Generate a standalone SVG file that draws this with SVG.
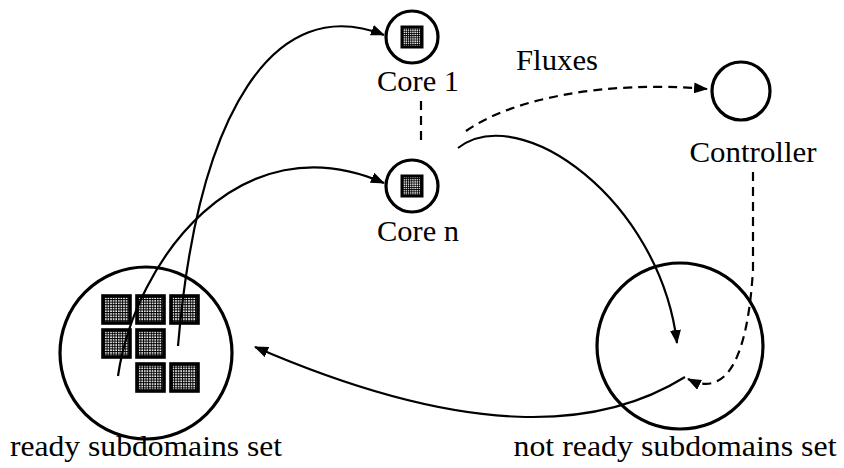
<svg xmlns="http://www.w3.org/2000/svg" width="844" height="468" viewBox="0 0 844 468">
<defs>
<pattern id="grid" width="2.6" height="2.6" patternUnits="userSpaceOnUse">
<rect width="2.6" height="2.6" fill="#fff"/>
<path d="M0 0.5H2.6M0.5 0V2.6" stroke="#000" stroke-width="1"/>
</pattern>
<pattern id="gridS" width="2.2" height="2.2" patternUnits="userSpaceOnUse">
<rect width="2.2" height="2.2" fill="#fff"/>
<path d="M0 0.45H2.2M0.45 0V2.2" stroke="#000" stroke-width="0.9"/>
</pattern>
<marker id="ah" viewBox="0 0 14 11" refX="13" refY="5.5" markerWidth="14" markerHeight="11" markerUnits="userSpaceOnUse" orient="auto">
<path d="M0 0L14 5.5L0 11z" fill="#000"/>
</marker>
</defs>
<style>
text{font-family:'Liberation Serif','Times New Roman',serif;font-size:29px;fill:#000;text-anchor:middle}
.node{fill:#fff;stroke:#000;stroke-width:3.2}
.c{fill:none;stroke:#000;stroke-width:2.2}
.a{marker-end:url(#ah)}
.d{stroke-dasharray:9 6}
.sq{fill:url(#grid);stroke:#000;stroke-width:3.6}
.sqs{fill:url(#gridS);stroke:#000;stroke-width:3}
</style>
<rect width="844" height="468" fill="#fff"/>

<g id="ready-set">
<circle class="node" cx="146" cy="353" r="86"/>
<rect class="sq" x="103" y="296" width="27" height="27"/>
<rect class="sq" x="137" y="296" width="27" height="27"/>
<rect class="sq" x="171" y="296" width="27" height="27"/>
<rect class="sq" x="103" y="330" width="27" height="27"/>
<rect class="sq" x="137" y="330" width="27" height="27"/>
<rect class="sq" x="137" y="364" width="27" height="27"/>
<rect class="sq" x="171" y="364" width="27" height="27"/>
<text x="146" y="456" textLength="272" lengthAdjust="spacingAndGlyphs">ready subdomains set</text>
</g>

<g id="not-ready-set">
<circle class="node" cx="680" cy="346" r="83"/>
<text x="675" y="456" textLength="323" lengthAdjust="spacingAndGlyphs">not ready subdomains set</text>
</g>

<g id="core1">
<circle class="node" cx="412" cy="37" r="26"/>
<rect class="sqs" x="402" y="27" width="20" height="20"/>
<text x="418" y="91" textLength="82" lengthAdjust="spacingAndGlyphs">Core 1</text>
</g>

<g id="coren">
<circle class="node" cx="412" cy="186" r="26"/>
<rect class="sqs" x="402" y="176" width="20" height="20"/>
<text x="418" y="241" textLength="82" lengthAdjust="spacingAndGlyphs">Core n</text>
</g>

<g id="controller">
<circle class="node" cx="741" cy="91" r="29"/>
<text x="753" y="162" textLength="127" lengthAdjust="spacingAndGlyphs">Controller</text>
</g>

<g id="connectors">
<path class="c d" d="M421 101V146" stroke-width="3"/>
<path class="c d a" d="M466 131C510 100 600 80 707 89"/>
<text x="557" y="70" textLength="82" lengthAdjust="spacingAndGlyphs">Fluxes</text>
<path class="c a" d="M178 346C198 110 275 -8 384 35"/>
<path class="c a" d="M118 376C135 260 240 120 384 183"/>
<path class="c a" d="M458 148C520 100 660 200 677 343"/>
<path class="c a" d="M685 377C600 430 470 440 255 347"/>
<path class="c d a" d="M753 172V270C748 350 730 400 688 379"/>
</g>
</svg>
